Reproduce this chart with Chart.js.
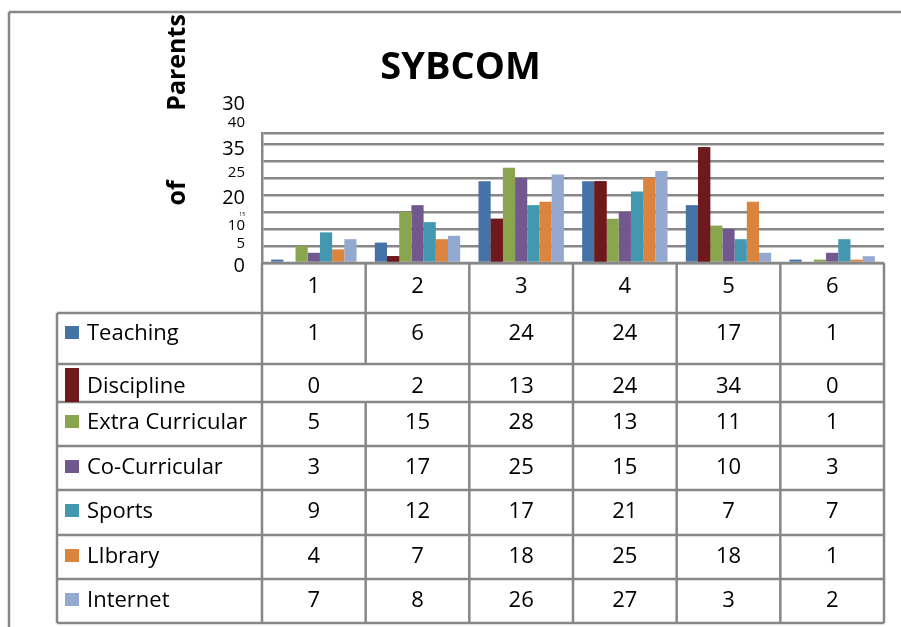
<!DOCTYPE html>
<html>
<head>
<meta charset="utf-8">
<script src="https://cdn.jsdelivr.net/npm/chart.js@4.4.1/dist/chart.umd.min.js"></script>
<style>
  html, body { margin: 0; padding: 0; background: #fff; }
  canvas { display: block; }
</style>
</head>
<body>
<canvas id="chart" width="901" height="627"></canvas>
<script>
// --- data ----------------------------------------------------------------
const categories = ["1", "2", "3", "4", "5", "6"];
const seriesNames = ["Teaching", "Discipline", "Extra Curricular", "Co-Curricular", "Sports", "LIbrary", "Internet"];
const teaching        = [1, 6, 24, 24, 17, 1];
const discipline      = [0, 2, 13, 24, 34, 0];
const extraCurricular = [5, 15, 28, 13, 11, 1];
const coCurricular    = [3, 17, 25, 15, 10, 3];
const sports          = [9, 12, 17, 21, 7, 7];
const library         = [4, 7, 18, 25, 18, 1];
const internet        = [7, 8, 26, 27, 3, 2];

// y labels as printed in the picture, and where each one sits on the value scale
const yTickLabels = ["0", "5", "10", "15", "20", "25", "35", "40", "30"];
const yTickAt     = [-0.9, 5.6, 10.9, 14.1, 19.1, 26.5, 33.5, 41.2, 46.5];

// --- style / layout ----------------------------------------------------------
const FONT = "'Open Sans', sans-serif";
const LINE = "#878787";
const COLORS = ["#4572A7", "#6E1A1C", "#89A54E", "#71588F", "#4198AF", "#DB843D", "#93A9CF"];
const Y_MAX = 38.2;
const Y_LABEL_SIZE = [20, 15, 15, 5, 20, 15, 20, 15, 20];
const ROW_EDGES = [263, 313, 364, 402, 446, 490, 535, 579, 623];
const ROW_TEXT_Y = [334, 387, 423, 468, 512, 557, 601];
const TABLE_LEFT = 57;

Chart.defaults.font.family = FONT;

const values = [teaching, discipline, extraCurricular, coCurricular, sports, library, internet];

// draws the frame, rotated axis title, the data table, and puts Discipline above the grid
const tablePlugin = {
  id: "dataTable",
  afterDraw(chart) {
    const { ctx, scales: { x } } = chart;

    // Discipline bars sit on top of the gridlines in the picture
    chart.getDatasetMeta(1).controller.draw();

    ctx.save();
    ctx.strokeStyle = LINE;
    ctx.lineWidth = 2.5;
    const line = (x1, y1, x2, y2) => {
      ctx.beginPath(); ctx.moveTo(x1, y1); ctx.lineTo(x2, y2); ctx.stroke();
    };

    // outer frame
    line(9, 12, 901, 12);
    line(9, 12, 9, 627);

    const step = x.getPixelForValue(1) - x.getPixelForValue(0);
    const edges = categories.map((_, i) => x.getPixelForValue(i) - step / 2);
    edges.push(x.getPixelForValue(categories.length - 1) + step / 2);
    const top = ROW_EDGES[0], bottom = ROW_EDGES[ROW_EDGES.length - 1];

    // horizontal rules
    line(edges[0], top, edges[edges.length - 1], top);
    ROW_EDGES.slice(1).forEach(y => line(TABLE_LEFT, y, edges[edges.length - 1], y));

    // vertical rules
    line(TABLE_LEFT, ROW_EDGES[1], TABLE_LEFT, bottom);
    edges.forEach((ex, i) => {
      if (i === 1) {
        // no divider between the first two values of the Discipline row
        line(ex, top, ex, ROW_EDGES[2]);
        line(ex, ROW_EDGES[3], ex, bottom);
      } else {
        line(ex, top, ex, bottom);
      }
    });

    // rows: swatch, name, values
    ctx.textBaseline = "middle";
    ctx.font = "22px " + FONT;
    seriesNames.forEach((name, r) => {
      const ty = ROW_TEXT_Y[r];
      ctx.fillStyle = COLORS[r];
      if (r === 1) ctx.fillRect(65, 368, 14, 34);
      else ctx.fillRect(65, ty - 8, 14, 13);
      ctx.fillStyle = "#000";
      ctx.textAlign = "left";
      ctx.fillText(name, 87, ty);
      ctx.textAlign = "center";
      values[r].forEach((v, i) => ctx.fillText(String(v), x.getPixelForValue(i), ty));
    });

    // rotated axis title pieces
    ctx.font = "bold 25px " + FONT;
    ctx.textAlign = "center";
    ctx.textBaseline = "alphabetic";
    [["Parents", 62.5], ["of", 193]].forEach(([t, cy]) => {
      ctx.save();
      ctx.translate(185, cy);
      ctx.rotate(-Math.PI / 2);
      ctx.fillText(t, 0, 0);
      ctx.restore();
    });
    ctx.restore();
  }
};

new Chart(document.getElementById("chart"), {
  type: "bar",
  data: {
    labels: categories,
    datasets: seriesNames.map((name, i) => ({
      label: name,
      data: values[i],
      backgroundColor: COLORS[i],
      borderWidth: 0,
      categoryPercentage: 7 / 8.5,
      barPercentage: 1,
    })),
  },
  options: {
    responsive: false,
    animation: false,
    layout: { padding: { left: 37, right: 17, top: 0, bottom: 0 } },
    plugins: {
      legend: { display: false },
      tooltip: { enabled: false },
      title: {
        display: true,
        text: "SYBCOM",
        color: "#000",
        font: { size: 38, weight: "bold", family: FONT, lineHeight: 1.2 },
        padding: { top: 45, bottom: 42.4 },
      },
    },
    scales: {
      x: {
        offset: true,
        grid: { display: false, drawTicks: false },
        border: { display: false },
        ticks: { color: "#000", font: { size: 22 }, padding: 11, maxRotation: 0 },
        afterFit: s => { s.height = 364; },
      },
      y: {
        min: 0, max: Y_MAX, weight: 0, z: 1,
        afterBuildTicks: s => {
          const t = [];
          for (let v = 0; v <= 35; v += 5) t.push({ value: v });
          t.push({ value: Y_MAX });
          s.ticks = t;
        },
        ticks: { display: false },
        grid: { color: LINE, lineWidth: 2.5, drawTicks: false },
        border: { display: true, color: LINE, width: 2.5 },
        afterFit: s => { s.width = 0; },
      },
      yl: {
        type: "linear", position: "left", min: 0, max: Y_MAX, weight: 1,
        afterBuildTicks: s => { s.ticks = yTickAt.map(v => ({ value: v })); },
        grid: { display: false, drawTicks: false },
        border: { display: false },
        ticks: {
          autoSkip: false,
          padding: 17,
          color: "#000",
          callback: (v, i) => yTickLabels[i],
          font: c => ({ size: Y_LABEL_SIZE[c.index], family: FONT }),
        },
        afterFit: s => { s.width = 225; },
      },
    },
  },
  plugins: [tablePlugin],
});
</script>
</body>
</html>
